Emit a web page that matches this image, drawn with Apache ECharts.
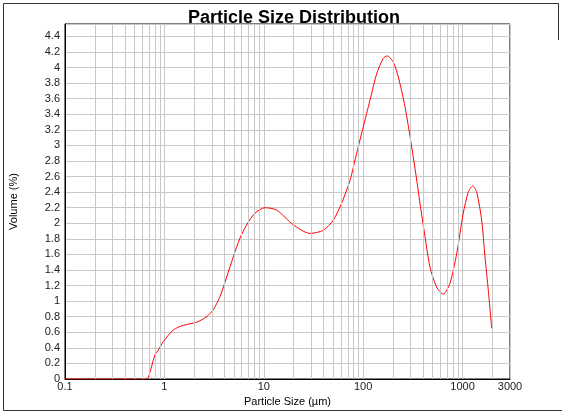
<!DOCTYPE html>
<html>
<head>
<meta charset="utf-8">
<script src="https://cdn.jsdelivr.net/npm/echarts@6/dist/echarts.min.js"></script>
<style>
  html, body { margin: 0; padding: 0; background: #fff; }
  #chart { width: 562px; height: 414px; }
</style>
</head>
<body>
<div id="chart"></div>
<script>
// Particle size classes (µm) and measured volume fractions (%)
const sizes = [0.1, 0.2, 0.3, 0.4, 0.5, 0.6, 0.65, 0.689, 0.804, 0.868, 0.975, 1.229, 1.549, 2.113,
  2.665, 3.105, 3.625, 4.236, 4.934, 5.762, 6.729, 8.153, 10.28, 13.49, 19.82, 29.17, 39.71, 50.02,
  60.8, 73.6, 86.0, 100.2, 117.0, 136.7, 159.3, 174.8, 200.9, 225.5, 263.4, 307.6, 339.8, 372.6,
  418.6, 469.9, 548.6, 639.2, 746.6, 872.5, 1016, 1141, 1264, 1386, 1556, 1680, 1815, 1963];
const volume = [0, 0, 0, 0, 0, 0, 0, 0.02, 0.31, 0.37, 0.48, 0.63, 0.69, 0.73,
  0.80, 0.89, 1.06, 1.31, 1.57, 1.81, 1.98, 2.13, 2.20, 2.17, 1.98, 1.87, 1.91, 2.04,
  2.26, 2.55, 2.90, 3.24, 3.58, 3.92, 4.12, 4.15, 4.07, 3.88, 3.50, 2.98, 2.62, 2.26,
  1.83, 1.44, 1.18, 1.09, 1.23, 1.61, 2.13, 2.40, 2.48, 2.40, 2.04, 1.57, 1.14, 0.65];

// Minor log-decade grid positions (2..9 of each decade, plus 2000)
const minorGrid = [0.2, 0.3, 0.4, 0.5, 0.6, 0.7, 0.8, 0.9,
  2, 3, 4, 5, 6, 7, 8, 9,
  20, 30, 40, 50, 60, 70, 80, 90,
  200, 300, 400, 500, 600, 700, 800, 900, 2000];

const gridColor = '#c8c8c8';
const font = 'Arial, "Liberation Sans", sans-serif';

const chart = echarts.init(document.getElementById('chart'), null, { renderer: 'canvas' });

chart.setOption({
  animation: false,
  backgroundColor: '#fff',
  title: {
    text: 'Particle Size Distribution',
    left: 289,
    textAlign: 'center',
    top: 4,
    textStyle: { fontFamily: font, fontSize: 18, fontWeight: 'bold', color: '#000' }
  },
  grid: {
    left: 65, right: 52, top: 24, bottom: 35,
    show: true, borderColor: '#000', borderWidth: 1, backgroundColor: 'transparent'
  },
  xAxis: {
    type: 'log',
    logBase: 10,
    min: 0.1,
    max: 3000,
    name: 'Particle Size (µm)',
    nameLocation: 'middle',
    nameGap: 16,
    nameTextStyle: { fontFamily: font, fontSize: 11, color: '#000' },
    axisLine: { show: true, lineStyle: { color: '#000', width: 1 } },
    axisTick: { show: false },
    axisLabel: {
      fontFamily: font, fontSize: 11, color: '#222', margin: 2,
      showMinLabel: true, showMaxLabel: true,
      formatter: v => String(+Number(v).toPrecision(6))
    },
    splitLine: { show: true, lineStyle: { color: gridColor, width: 1 } }
  },
  yAxis: {
    type: 'value',
    min: 0,
    max: 4.56,
    interval: 0.2,
    name: 'Volume (%)',
    nameLocation: 'middle',
    nameGap: 46,
    nameTextStyle: { fontFamily: font, fontSize: 11, color: '#000' },
    axisLine: { show: true, lineStyle: { color: '#000', width: 1 } },
    axisTick: { show: false },
    axisLabel: {
      fontFamily: font, fontSize: 11, color: '#222', margin: 5,
      showMaxLabel: false,
      formatter: v => String(+Number(v).toFixed(1))
    },
    splitLine: { show: true, lineStyle: { color: gridColor, width: 1 } }
  },
  graphic: [
    { type: 'line', shape: { x1: 3.5, y1: 3.5, x2: 558.5, y2: 3.5 }, style: { stroke: '#333', lineWidth: 1 } },
    { type: 'line', shape: { x1: 3.5, y1: 3.5, x2: 3.5, y2: 410.5 }, style: { stroke: '#333', lineWidth: 1 } },
    { type: 'line', shape: { x1: 3.5, y1: 410.5, x2: 562, y2: 410.5 }, style: { stroke: '#333', lineWidth: 1 } },
    { type: 'line', shape: { x1: 558.5, y1: 3.5, x2: 558.5, y2: 40 }, style: { stroke: '#333', lineWidth: 1 } }
  ],
  series: [{
    type: 'line',
    data: sizes.map((s, i) => [s, volume[i]]),
    showSymbol: false,
    smooth: 0.25,
    lineStyle: { color: '#ff0000', width: 1 },
    itemStyle: { color: '#ff0000' },
    z: 3,
    markLine: {
      silent: true,
      symbol: 'none',
      label: { show: false },
      animation: false,
      lineStyle: { color: gridColor, width: 1, type: 'solid' },
      data: minorGrid.map(v => ({ xAxis: v }))
    }
  }]
});
</script>
</body>
</html>
